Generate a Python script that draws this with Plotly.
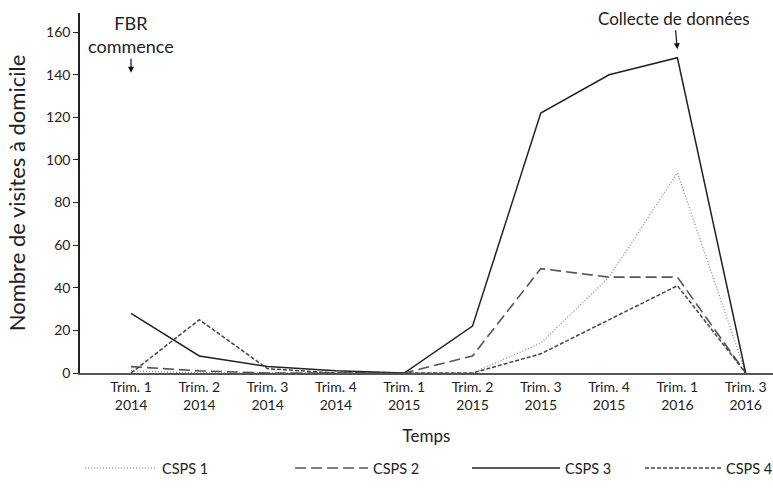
import plotly.graph_objects as go

categories = ["Trim. 1<br>2014", "Trim. 2<br>2014", "Trim. 3<br>2014", "Trim. 4<br>2014",
              "Trim. 1<br>2015", "Trim. 2<br>2015", "Trim. 3<br>2015", "Trim. 4<br>2015",
              "Trim. 1<br>2016", "Trim. 3<br>2016"]

csps1 = [1, 0, 0, 0, 0, 0, 14, 45, 94, 0]
csps2 = [3, 1, 0, 0, 0, 8, 49, 45, 45, 0]
csps3 = [28, 8, 3, 1, 0, 22, 122, 140, 148, 0]
csps4 = [0, 25, 2, 0, 0, 0, 9, 25, 41, 0]

series_names = ["CSPS 1", "CSPS 2", "CSPS 3", "CSPS 4"]
y_ticks = [0, 20, 40, 60, 80, 100, 120, 140, 160]

FONT = "Lato"
TXT = "#222222"
W, H = 773, 494

fig = go.Figure()
styles = [
    dict(color="#8a8a8a", width=1.3, dash="1px,2px"),
    dict(color="#555555", width=1.6, dash="11px,5px"),
    dict(color="#222222", width=1.5, dash="solid"),
    dict(color="#444444", width=1.5, dash="4px,2px"),
]
legend_ids = ["legend", "legend2", "legend3", "legend4"]
for name, vals, st, lg in zip(series_names, [csps1, csps2, csps3, csps4], styles, legend_ids):
    fig.add_trace(go.Scatter(x=categories, y=vals, mode="lines", name=name, line=st, legend=lg))

# legend placement (left px of each entry, symbol width)
legend_pos = [(80, 72), (290, 73), (467, 88), (640, 76)]
legend_layout = {}
for lg, (px, iw) in zip(legend_ids, legend_pos):
    legend_layout[lg] = dict(orientation="h", xref="container", x=px / W, xanchor="left",
                             yref="container", y=0.085, yanchor="top", itemwidth=iw,
                             bgcolor="rgba(0,0,0,0)",
                             font=dict(size=14.5, family=FONT, color=TXT))

fig.update_layout(
    width=W, height=H,
    margin=dict(l=80, r=0, t=13, b=121),
    paper_bgcolor="white", plot_bgcolor="white",
    font=dict(family=FONT, color=TXT),
    showlegend=True,
    **legend_layout,
)
fig.update_xaxes(type="category", range=[-0.747, 9.4], showline=True, linecolor="#555555", linewidth=1.5,
                 showgrid=False, zeroline=False, ticks="", tickfont=dict(size=14, color=TXT),
                 title=dict(text="Temps", font=dict(size=17, color=TXT), standoff=18))
fig.update_yaxes(range=[0, 169], tickvals=y_ticks, showline=True, linecolor="#222222", linewidth=1.5,
                 showgrid=False, zeroline=False, ticks="outside", ticklen=5, tickcolor="#222222",
                 tickfont=dict(size=14, color=TXT),
                 title=dict(text="Nombre de visites à domicile", font=dict(size=22, color=TXT), standoff=14))

fig.add_annotation(x=categories[0], y=141, xref="x", yref="y", text="FBR<br>commence",
                   showarrow=True, ax=0, ay=-38, arrowhead=2, arrowsize=1, arrowwidth=1.2, arrowcolor="#111",
                   font=dict(size=18, color=TXT), standoff=0)
fig.add_annotation(x=categories[8], y=152, xref="x", yref="y", text="Collecte de données",
                   showarrow=True, ax=-3, ay=-31, arrowhead=2, arrowsize=1, arrowwidth=1.2, arrowcolor="#111",
                   font=dict(size=17, color=TXT), standoff=0)

fig.write_html("out.html", config={"displayModeBar": False},
               post_script="document.body.style.margin='0';document.body.style.overflow='hidden';")
